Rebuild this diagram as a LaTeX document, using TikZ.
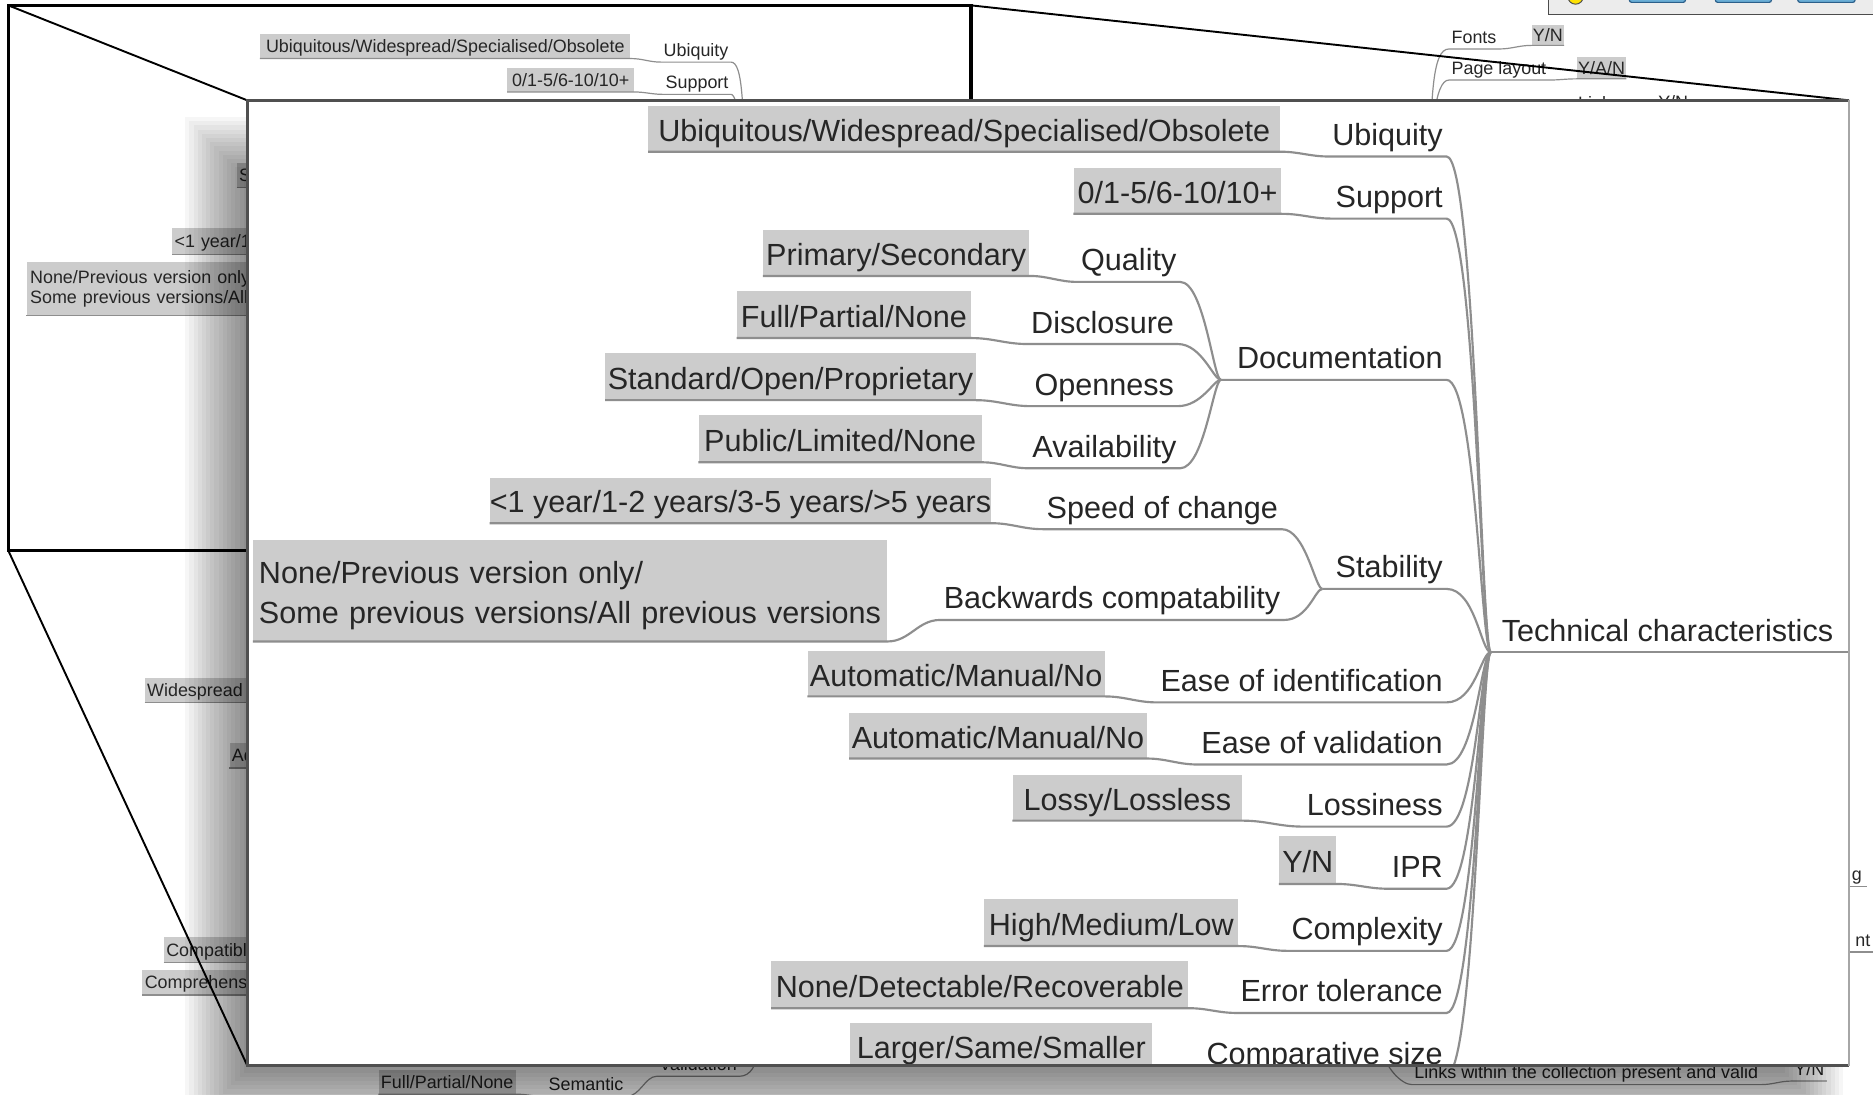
\documentclass[tikz,border=0pt]{standalone}
\usepackage{fontspec}
\setmainfont{Liberation Sans}
\usetikzlibrary{calc}
\definecolor{boxg}{HTML}{CCCCCC}
\definecolor{lineg}{HTML}{8E8E8E}
\definecolor{txt}{HTML}{262626}
\definecolor{panelb}{HTML}{505050}
\definecolor{toolbg}{HTML}{ECECEC}
\definecolor{btnfill}{HTML}{6AAED6}
\definecolor{btndraw}{HTML}{2B5F8A}
\newcommand\mfs{\fontsize{25.6}{33}\selectfont}
\newcommand\bfs{\fontsize{15}{17}\selectfont}
\tikzset{
  lab/.style={inner xsep=3pt, inner ysep=3pt, text height=19pt, text depth=6pt, font=\mfs, text=txt},
  val/.style={fill=boxg, inner xsep=2pt, inner ysep=0pt, text height=23pt, text depth=2pt, font=\mfs, text=txt},
  valtwo/.style={fill=boxg, inner xsep=5pt, inner ysep=0pt, font=\mfs, text=txt, align=left},
  conn/.style={draw=lineg, line width=1.8pt},
  blab/.style={inner xsep=2pt, inner ysep=1.2pt, text height=11pt, text depth=3.5pt, font=\bfs, text=txt},
  bval/.style={fill=boxg, inner xsep=2pt, inner ysep=0pt, text height=13pt, text depth=2pt, font=\bfs, text=txt},
  bvaltwo/.style={fill=boxg, inner xsep=3pt, inner ysep=0pt, font=\bfs, text=txt, align=left},
  bconn/.style={draw=lineg, line width=1pt},
  frameline/.style={draw=black, line width=3pt},
  zoomline/.style={draw=black, line width=1.6pt},
}
\begin{document}
\begin{tikzpicture}[x=1pt,y=-1pt]
\useasboundingbox (0,0) rectangle (1568,916);
\fill[white] (0,0) rectangle (1568,916);

% ---------- background mind map (top) ----------
\node[bval, anchor=south east, minimum width=310pt, minimum height=20pt] (b1v) at (528,49) {Ubiquitous/Widespread/Specialised/Obsolete};
\node[blab, anchor=south east] (b1l) at (612,52) {Ubiquity};
\node[bval, anchor=south east, minimum width=106pt, minimum height=20pt] (b2v) at (531,77) {0/1-5/6-10/10+};
\node[blab, anchor=south east] (b2l) at (612,79) {Support};
\coordinate (bA) at (623,170);
\draw[bconn] (b1v.south west) -- (b1v.south east) to[out=0,in=180] (b1l.south west) -- (b1l.south east) .. controls +(10,0) and +(0,-80) .. (bA);
\draw[bconn] (b2v.south west) -- (b2v.south east) to[out=0,in=180] (b2l.south west) -- (b2l.south east) .. controls +(6,0) and +(0,-50) .. (bA);

\node[bval, anchor=south west, inner xsep=1pt, minimum width=24pt, minimum height=17pt] (b3v) at (1282,38) {Y/N};
\node[blab, anchor=south west] (b3l) at (1213,41) {Fonts};
\node[bval, anchor=south west, inner xsep=1pt, minimum width=38pt, minimum height=18pt] (b4v) at (1320,66) {Y/A/N};
\node[blab, anchor=south west] (b4l) at (1213,67) {Page layout};
\coordinate (bB) at (1197,180);
\draw[bconn] (b3v.south east) -- (b3v.south west) to[out=180,in=0] (b3l.south east) -- (b3l.south west) .. controls +(-14,0) and +(0,-100) .. (bB);
\draw[bconn] (b4v.south east) -- (b4v.south west) to[out=180,in=0] (b4l.south east) -- (b4l.south west) .. controls +(-12,0) and +(0,-70) .. (bB);
\node[font=\bfs, text=txt, inner sep=0pt, anchor=north west] (b5l) at (1321,81) {Links};
\node[font=\bfs, text=txt, inner sep=0pt, anchor=north west] (b5v) at (1388,80) {Y/N};

% ---------- background mind map (left, cut by the panel) ----------
\node[bval, align=left, text width=16pt, minimum height=20pt, anchor=south west] (bS) at (198,157) {S};
\node[bval, align=left, text width=64pt, minimum height=22pt, anchor=south west] (bY) at (144,213) {<1 year/1};
\node[bvaltwo, text width=195pt, minimum height=45pt, anchor=north west] (bN) at (22,219) {None/Previous version only\\Some previous versions/All};
\node[bval, align=left, text width=90pt, minimum height=20pt, anchor=south west] (bW) at (121,588) {Widespread};
\node[bval, align=left, text width=20pt, minimum height=21pt, anchor=south west] (bAd) at (192,643) {Ad};
\node[bval, align=left, text width=74pt, minimum height=21pt, anchor=south west] (bC) at (137,806) {Compatibl};
\node[bval, align=left, text width=92pt, minimum height=21pt, anchor=south west] (bCo) at (119,833) {Comprehens};
\foreach \n in {bS,bY,bN,bW,bAd,bC,bCo} { \draw[bconn] (\n.south west) -- (\n.south east); }

% ---------- background mind map (bottom band and right) ----------
\node[bval, anchor=south east, minimum width=114pt, minimum height=20pt] (bF) at (432,916) {Full/Partial/None};
\node[blab, anchor=south east] (bSe) at (524,918) {Semantic};
\node[blab, anchor=south east] (bVa) at (619,901) {Validation};
\coordinate (bC1) at (634,878);
\draw[bconn] (bF.south west) -- (bF.south east) to[out=0,in=180] (bSe.south west) -- (bSe.south east) .. controls +(12,0) and +(-10,0) .. (bVa.south west) -- (bVa.south east) .. controls +(9,0) and +(0,14) .. (bC1);
\node[blab, anchor=south east] (bLi) at (1474,908) {Links within the collection present and valid};
\node[blab, anchor=south west] (bLv) at (1500,905) {Y/N};
\coordinate (bC2) at (1158,878);
\draw[bconn] (bLv.south east) -- (bLv.south west) to[out=180,in=0] (bLi.south east) -- (bLi.south west) .. controls +(-9,0) and +(0,14) .. (bC2);
\node[blab, anchor=south west, inner xsep=0pt] (bg1) at (1550,742) {g};
\draw[bconn] ($(bg1.south west)+(-4,0)$) -- ($(bg1.south east)+(4,0)$);
\node[blab, anchor=south west, inner xsep=0pt] (bg2) at (1553,797) {nt};
\draw[bconn] ($(bg2.south west)+(-6,0)$) -- (1568,797);

% ---------- drop shadow of the panel ----------
\foreach \k in {0,...,14} {
  \fill[black, opacity=0.035] ({155+3.5*\k},{98+3.5*\k}) rectangle ({1543-3.5*\k},{947-3.5*\k});
}

% ---------- zoom frame and zoom lines ----------
\coordinate (fTL) at (7,4.5);
\coordinate (fTR) at (813,4.5);
\coordinate (fBL) at (7,461);
\coordinate (pTL) at (207,84);
\coordinate (pTR) at (1548,84);
\coordinate (pBL) at (207,892);
\coordinate (pBR) at (1548,892);
\draw[frameline] (813,84) -- (fTR) -- (fTL) -- (fBL) -- (207,461);
\draw[zoomline] (fTL) -- (pTL);
\draw[zoomline] (fTR) -- (pTR);
\draw[zoomline] (fBL) -- (pBL);

% ---------- magnified panel ----------
\fill[white] (pTL) rectangle (pBR);
\begin{scope}
\clip (pTL) rectangle (pBR);
\coordinate (R) at (1248,546);
\coordinate (D) at (1022,318);
\coordinate (S) at (1107,493);

\node[lab, anchor=south west] (root) at (1254,546) {Technical characteristics};
\draw[conn] (R) -- (1548,546);

% Ubiquity
\node[val, anchor=south east, minimum width=529pt, minimum height=38pt] (v1) at (1072,127) {Ubiquitous/Widespread/Specialised/Obsolete};
\node[lab, anchor=south east] (l1) at (1211,131) {Ubiquity};
\draw[conn] (v1.south west) -- (v1.south east) to[out=0,in=180] (l1.south west) -- (l1.south east) .. controls +(24,0) and +(-8,0) .. (R);
% Support
\node[val, anchor=south east, minimum width=174pt, minimum height=38pt] (v2) at (1073,179) {0/1-5/6-10/10+};
\node[lab, anchor=south east] (l2) at (1211,183) {Support};
\draw[conn] (v2.south west) -- (v2.south east) to[out=0,in=180] (l2.south west) -- (l2.south east) .. controls +(24,0) and +(-8,0) .. (R);
% Documentation
\node[lab, anchor=south east] (l3) at (1211,318) {Documentation};
\draw[conn] (D) -- (l3.south east) .. controls +(24,0) and +(-8,0) .. (R);
\node[val, anchor=south east, minimum width=223pt, minimum height=38pt] (v31) at (862,231) {Primary/Secondary};
\node[lab, anchor=south east] (l31) at (988,236) {Quality};
\draw[conn] (v31.south west) -- (v31.south east) to[out=0,in=180] (l31.south west) -- (l31.south east) .. controls +(20,0) and +(-6,0) .. (D);
\node[val, anchor=south east, minimum width=196pt, minimum height=39pt] (v32) at (813,283) {Full/Partial/None};
\node[lab, anchor=south east] (l32) at (986,288) {Disclosure};
\draw[conn] (v32.south west) -- (v32.south east) to[out=0,in=180] (l32.south west) -- (l32.south east) .. controls +(20,0) and +(-6,0) .. (D);
\node[val, anchor=south east, minimum width=309pt, minimum height=39pt] (v33) at (817,335) {Standard/Open/Proprietary};
\node[lab, anchor=south east] (l33) at (986,340) {Openness};
\draw[conn] (v33.south west) -- (v33.south east) to[out=0,in=180] (l33.south west) -- (l33.south east) .. controls +(20,0) and +(-6,0) .. (D);
\node[val, anchor=south east, minimum width=237pt, minimum height=39pt] (v34) at (822,387) {Public/Limited/None};
\node[lab, anchor=south east] (l34) at (988,392) {Availability};
\draw[conn] (v34.south west) -- (v34.south east) to[out=0,in=180] (l34.south west) -- (l34.south east) .. controls +(20,0) and +(-6,0) .. (D);
% Stability
\node[lab, anchor=south east] (l4) at (1211,493) {Stability};
\draw[conn] (S) -- (l4.south east) .. controls +(24,0) and +(-8,0) .. (R);
\node[val, inner xsep=0pt, anchor=south east, minimum width=416pt, minimum height=38pt] (v41) at (830,438) {<1 year/1-2 years/3-5 years/>5 years};
\node[lab, anchor=south east] (l41) at (1073,443) {Speed of change};
\draw[conn] (v41.south west) -- (v41.south east) to[out=0,in=180] (l41.south west) -- (l41.south east) .. controls +(20,0) and +(-6,0) .. (S);
\node[valtwo, anchor=south east, text width=521pt, minimum height=85pt] (v42) at (743,537) {\rule{0pt}{27pt}None/Previous version only/\\Some previous versions/All previous versions};
\node[lab, anchor=south east] (l42) at (1075,519) {Backwards compatability};
\draw[conn] (v42.south west) -- (v42.south east) to[out=0,in=180] (l42.south west) -- (l42.south east) .. controls +(20,0) and +(-6,0) .. (S);
% Ease of identification
\node[val, anchor=south east, minimum width=248pt, minimum height=38pt] (v5) at (925,583) {Automatic/Manual/No};
\node[lab, anchor=south east] (l5) at (1211,588) {Ease of identification};
\draw[conn] (v5.south west) -- (v5.south east) to[out=0,in=180] (l5.south west) -- (l5.south east) .. controls +(24,0) and +(-8,0) .. (R);
% Ease of validation
\node[val, anchor=south east, minimum width=248pt, minimum height=38pt] (v6) at (960,635) {Automatic/Manual/No};
\node[lab, anchor=south east] (l6) at (1211,640) {Ease of validation};
\draw[conn] (v6.south west) -- (v6.south east) to[out=0,in=180] (l6.south west) -- (l6.south east) .. controls +(24,0) and +(-8,0) .. (R);
% Lossiness
\node[val, anchor=south east, minimum width=192pt, minimum height=38pt] (v7) at (1040,687) {Lossy/Lossless};
\node[lab, anchor=south east] (l7) at (1211,692) {Lossiness};
\draw[conn] (v7.south west) -- (v7.south east) to[out=0,in=180] (l7.south west) -- (l7.south east) .. controls +(24,0) and +(-8,0) .. (R);
% IPR
\node[val, anchor=south east, minimum width=48pt, minimum height=40pt] (v8) at (1119,740) {Y/N};
\node[lab, anchor=south east] (l8) at (1211,744) {IPR};
\draw[conn] (v8.south west) -- (v8.south east) to[out=0,in=180] (l8.south west) -- (l8.south east) .. controls +(24,0) and +(-8,0) .. (R);
% Complexity
\node[val, anchor=south east, minimum width=213pt, minimum height=39pt] (v9) at (1037,792) {High/Medium/Low};
\node[lab, anchor=south east] (l9) at (1211,796) {Complexity};
\draw[conn] (v9.south west) -- (v9.south east) to[out=0,in=180] (l9.south west) -- (l9.south east) .. controls +(24,0) and +(-8,0) .. (R);
% Error tolerance
\node[val, anchor=south east, minimum width=349pt, minimum height=39pt] (v10) at (995,844) {None/Detectable/Recoverable};
\node[lab, anchor=south east] (l10) at (1211,848) {Error tolerance};
\draw[conn] (v10.south west) -- (v10.south east) to[out=0,in=180] (l10.south west) -- (l10.south east) .. controls +(24,0) and +(-8,0) .. (R);
% Comparative size
\node[val, anchor=south east, minimum width=253pt, minimum height=38pt] (v11) at (965,895) {Larger/Same/Smaller};
\node[lab, anchor=south east] (l11) at (1211,900) {Comparative size};
\draw[conn] (v11.south west) -- (v11.south east) to[out=0,in=180] (l11.south west) -- (l11.south east) .. controls +(24,0) and +(-8,0) .. (R);
\end{scope}
\draw[panelb, line width=2.6pt] (pTR) -- (pTL) -- (pBL) -- (pBR);
\draw[gray!70, line width=1.2pt] (pTR) -- (pBR);

% ---------- toolbar at the top right ----------
\fill[toolbg] (1296,-2) rectangle (1570,12);
\draw[gray!60!black, line width=1pt] (1296,-2) -- (1296,12) -- (1570,12);
\filldraw[fill=yellow!85!orange, draw=black!70, line width=0.8pt] (1319,-3) circle (6.5);
\filldraw[fill=btnfill, draw=btndraw, line width=1pt, rounded corners=2pt] (1364,-8) rectangle (1411,2);
\filldraw[fill=btnfill, draw=btndraw, line width=1pt, rounded corners=2pt] (1436,-8) rectangle (1483,2);
\filldraw[fill=btnfill, draw=btndraw, line width=1pt, rounded corners=2pt] (1505,-8) rectangle (1553,2);
\end{tikzpicture}
\end{document}
